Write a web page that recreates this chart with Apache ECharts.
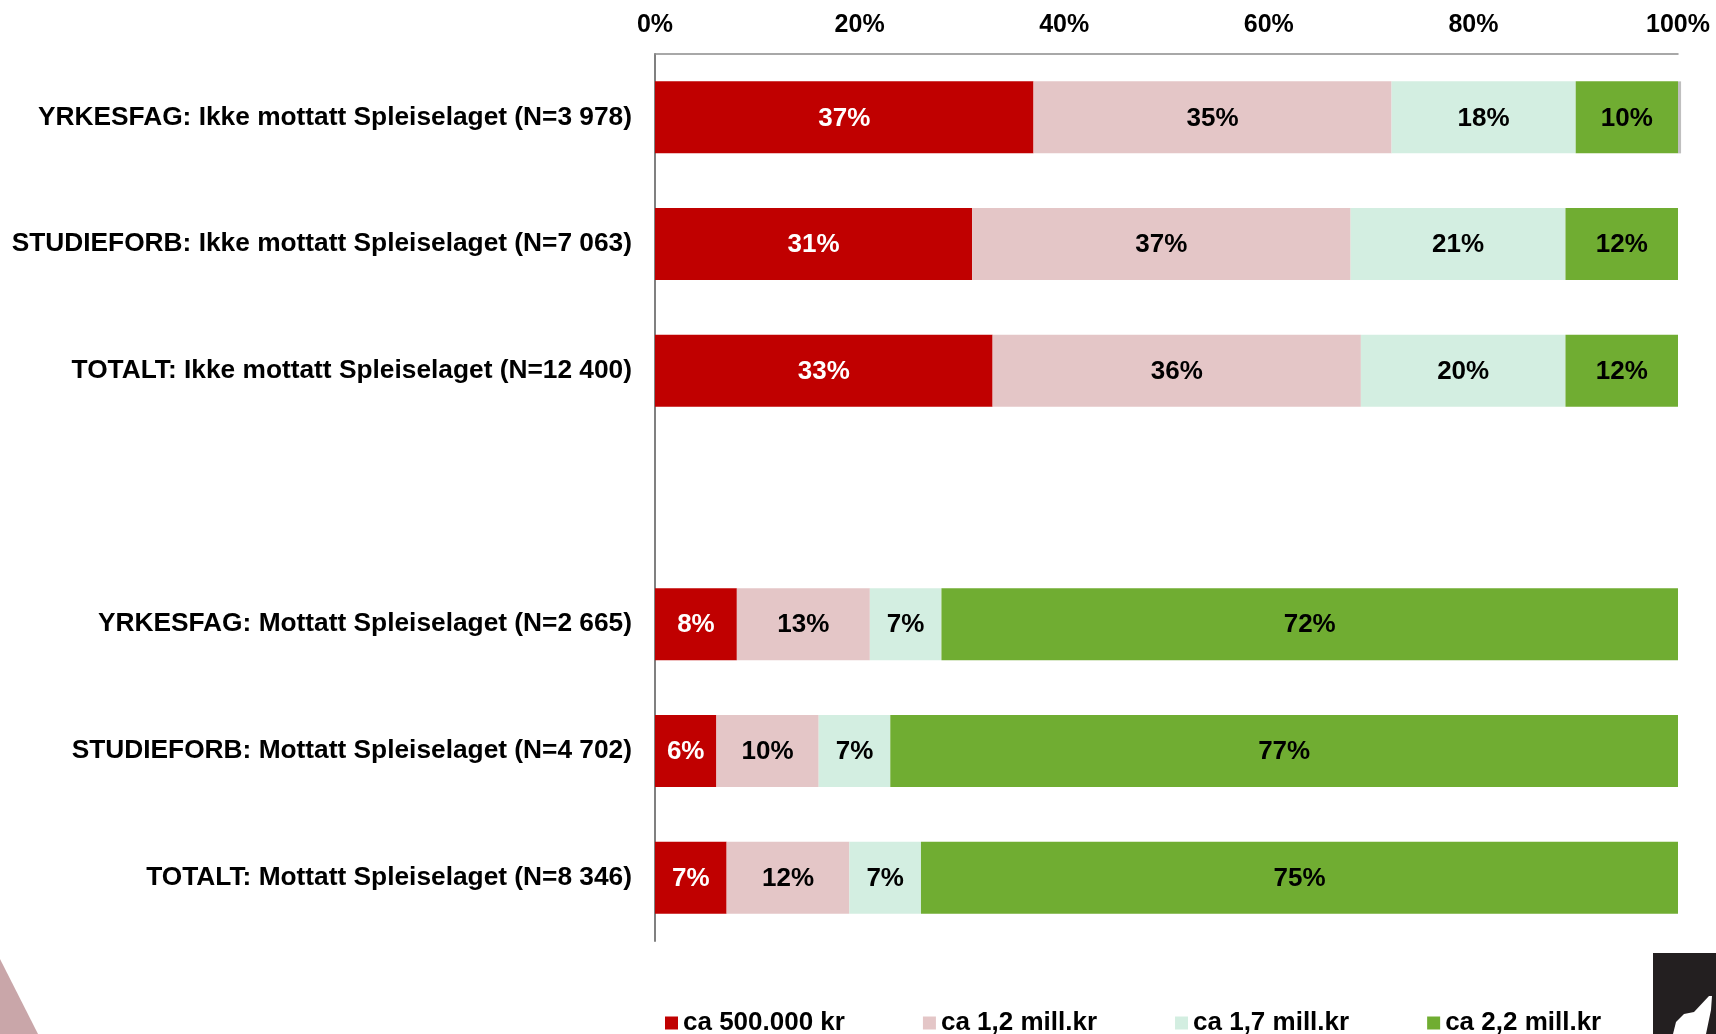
<html>
<head>
    <meta http-equiv="Content-Type" content="text/html; charset=utf-8" />
    <title>Spleiselaget</title>
    <script src="https://cdn.jsdelivr.net/npm/echarts@6/dist/echarts.min.js"></script>
    <style>
        html, body { margin: 0; padding: 0; background: #fff; }
    </style>
</head>
<body>
    <div id="main" style="width:1716px;height:1034px"></div>

    <script type="text/javascript">
        var categories = [
            'YRKESFAG: Ikke mottatt Spleiselaget (N=3 978)',
            'STUDIEFORB: Ikke mottatt Spleiselaget (N=7 063)',
            'TOTALT: Ikke mottatt Spleiselaget (N=12 400)',
            '',
            'YRKESFAG: Mottatt Spleiselaget (N=2 665)',
            'STUDIEFORB: Mottatt Spleiselaget (N=4 702)',
            'TOTALT: Mottatt Spleiselaget (N=8 346)'
        ];

        var seriesNames = ['ca 500.000 kr', 'ca 1,2 mill.kr', 'ca 1,7 mill.kr', 'ca 2,2 mill.kr'];

        var v500 = [37, 31, 33, null, 8, 6, 7];
        var v12 = [35, 37, 36, null, 13, 10, 12];
        var v17 = [18, 21, 20, null, 7, 7, 7];
        var v22 = [10, 12, 12, null, 72, 77, 75];
        var vRest = [0.3, null, null, null, null, null, null];

        var xTicks = [0, 20, 40, 60, 80, 100];

        var colors = ['#C00000', '#E4C6C7', '#D3EEE1', '#70AD32'];
        var labelColors = ['#ffffff', '#000000', '#000000', '#000000'];
        var font = "'Liberation Sans', Arial, sans-serif";

        var values = [v500, v12, v17, v22];

        var mapdata = values.map(function (arr, i) {
            return {
                name: seriesNames[i],
                type: 'bar',
                stack: 'total',
                barWidth: 72,
                itemStyle: { color: colors[i] },
                label: {
                    show: true,
                    position: 'inside',
                    offset: [0, 1],
                    color: labelColors[i],
                    fontFamily: font,
                    fontWeight: 'bold',
                    fontSize: 26,
                    formatter: function (p) {
                        return p.value == null ? '' : p.value + '%';
                    }
                },
                data: arr
            };
        });

        // the thin grey bit at the end of the first bar
        mapdata.push({
            name: 'rest',
            type: 'bar',
            stack: 'total',
            barWidth: 72,
            clip: false,
            itemStyle: { color: '#BFBFBF' },
            label: { show: false },
            data: vRest
        });

        var option = {
            animation: false,
            backgroundColor: '#ffffff',
            legend: {
                data: seriesNames,
                left: 660,
                top: 1005,
                icon: 'rect',
                itemWidth: 13,
                itemHeight: 13,
                itemGap: 78,
                textStyle: {
                    color: '#000',
                    fontFamily: font,
                    fontWeight: 'bold',
                    fontSize: 26
                }
            },
            grid: {
                left: 655,
                right: 38,
                top: 54,
                bottom: 93
            },
            xAxis: {
                type: 'value',
                position: 'top',
                min: xTicks[0],
                max: xTicks[xTicks.length - 1],
                interval: xTicks[1] - xTicks[0],
                axisLine: {
                    show: true,
                    lineStyle: { color: '#8C8C8C', width: 1.5 }
                },
                axisTick: { show: false },
                splitLine: { show: false },
                axisLabel: {
                    margin: 16,
                    color: '#000',
                    fontFamily: font,
                    fontWeight: 'bold',
                    fontSize: 25,
                    formatter: '{value}%'
                }
            },
            yAxis: {
                type: 'category',
                inverse: true,
                data: categories,
                axisLine: {
                    show: true,
                    lineStyle: { color: '#808080', width: 2 }
                },
                axisTick: { show: false },
                splitLine: { show: false },
                axisLabel: {
                    margin: 23,
                    padding: [4, 0, 0, 0],
                    color: '#000',
                    fontFamily: font,
                    fontWeight: 'bold',
                    fontSize: 26.3
                }
            },
            graphic: [
                {
                    type: 'polygon',
                    shape: { points: [[0, 959], [38, 1034], [0, 1034]] },
                    style: { fill: '#C9A6A9' }
                },
                {
                    type: 'rect',
                    shape: { x: 1653, y: 953, width: 63, height: 81 },
                    style: { fill: '#231F20' }
                },
                {
                    type: 'polygon',
                    shape: {
                        points: [[1673, 1034], [1676, 1022], [1684, 1014], [1694, 1012],
                                 [1709, 996], [1712, 996], [1711, 1010], [1706, 1034]]
                    },
                    style: { fill: '#ffffff' }
                }
            ],
            series: mapdata
        };

        var myChart = echarts.init(document.getElementById('main'));
        myChart.setOption(option);
    </script>
</body>
</html>
